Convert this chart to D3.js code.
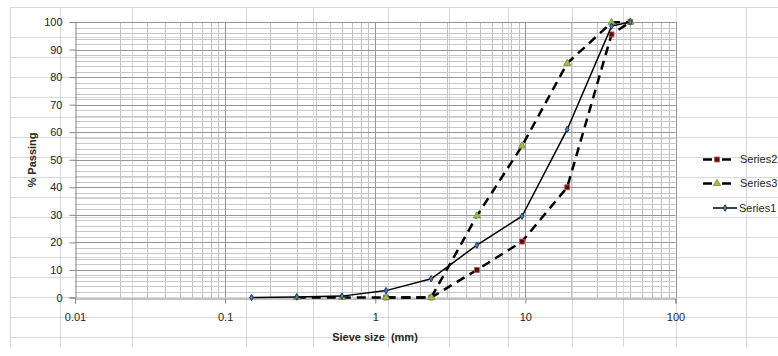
<!DOCTYPE html>
<html>
<head>
<meta charset="utf-8">
<script src="https://cdn.jsdelivr.net/npm/d3@7"></script>
<style>
	body { margin: 0; background: #fff; }
	svg { display: block; font-family: 'Liberation Sans', Arial, sans-serif; }
</style>
</head>
<body>
<svg></svg>
<script>
const width = 778;
const height = 356;

// sieve sizes (mm) and % passing
const sieve1 = [0.15, 0.3, 0.6, 1.18, 2.36, 4.75, 9.5, 19, 37.5, 50];
const series1 = [0, 0.2, 0.5, 2.5, 6.8, 19, 29.5, 61, 98.5, 100];
const sieve2 = [1.18, 2.36, 4.75, 9.5, 19, 37.5, 50];
const series2 = [0, 0, 10, 20.3, 40, 95.5, 100];
const sieve3 = [0.3, 0.6, 1.18, 2.36, 4.75, 9.5, 19, 37.5, 50];
const series3 = [0, 0, 0, 0, 29.6, 55, 85, 99.8, 100];

const xTicks = [0.01, 0.1, 1, 10, 100];
const yTicks = [0, 10, 20, 30, 40, 50, 60, 70, 80, 90, 100];
const legendNames = ['Series2', 'Series3', 'Series1'];

// spreadsheet cells behind the chart
const cellCols = [10, 60, 132, 246, 313, 388, 449, 508, 572, 623, 676, 746];
const cellRows = [7, 37].concat(d3.range(57, 340, 20));

const svg = d3.select('svg').attr('width', width).attr('height', height);

const x = d3.scaleLog().domain([0.01, 100]).range([75, 675.5]);
const y = d3.scaleLinear().domain([0, 100]).range([297.5, 22]);

// cell lines
const cells = svg.append('g').attr('stroke', '#d9d9d9').attr('stroke-width', 1);
cells.selectAll('line.r')
	.data(cellRows)
	.enter()
	.append('line')
	.attr('class', 'r')
	.attr('x1', 10).attr('x2', width)
	.attr('y1', (d) => d + 0.5).attr('y2', (d) => d + 0.5);
cells.selectAll('line.c')
	.data(cellCols)
	.enter()
	.append('line')
	.attr('class', 'c')
	.attr('x1', (d) => d + 0.5).attr('x2', (d) => d + 0.5)
	.attr('y1', 7).attr('y2', 347);

// gridlines
const minorX = [];
[-2, -1, 0, 1].forEach((e) => {
	for (let k = 2; k <= 9; k++) minorX.push(k * Math.pow(10, e));
});
const minorY = d3.range(0, 101, 2).filter((d) => d % 10 !== 0);

const grid = svg.append('g');
grid.selectAll('line.mx')
	.data(minorX)
	.enter()
	.append('line')
	.attr('x1', (d) => Math.round(x(d)) + 0.5).attr('x2', (d) => Math.round(x(d)) + 0.5)
	.attr('y1', y(100)).attr('y2', y(0))
	.attr('stroke', '#c0c0c0');
grid.selectAll('line.my')
	.data(minorY)
	.enter()
	.append('line')
	.attr('x1', x(0.01)).attr('x2', x(100))
	.attr('y1', (d) => Math.round(y(d)) + 0.5).attr('y2', (d) => Math.round(y(d)) + 0.5)
	.attr('stroke', '#c8c8c8');
grid.selectAll('line.Mx')
	.data(xTicks.slice(1))
	.enter()
	.append('line')
	.attr('x1', (d) => Math.round(x(d)) + 0.5).attr('x2', (d) => Math.round(x(d)) + 0.5)
	.attr('y1', y(100)).attr('y2', y(0))
	.attr('stroke', '#969696');
grid.selectAll('line.My')
	.data(yTicks.slice(1))
	.enter()
	.append('line')
	.attr('x1', x(0.01)).attr('x2', x(100))
	.attr('y1', (d) => Math.round(y(d)) + 0.5).attr('y2', (d) => Math.round(y(d)) + 0.5)
	.attr('stroke', '#969696');

// axes
const xAxis = svg.append('g')
	.attr('transform', `translate(0,${Math.round(y(0)) + 0.5})`)
	.call(d3.axisBottom(x).tickValues(xTicks).tickFormat((d) => String(d)).tickSize(5).tickPadding(10));
const yAxis = svg.append('g')
	.attr('transform', `translate(${Math.round(x(0.01)) + 0.5},0)`)
	.call(d3.axisLeft(y).tickValues(yTicks).tickSize(6).tickPadding(7));
[xAxis, yAxis].forEach((a) => {
	a.select('.domain').attr('stroke', '#868686');
	a.selectAll('.tick line').attr('stroke', '#868686');
	a.selectAll('.tick text').attr('fill', '#262626').style('font-size', '11px');
});

// axis titles
svg.append('text')
	.attr('x', 375).attr('y', 341)
	.attr('text-anchor', 'middle')
	.style('font-size', '11px').style('font-weight', 'bold').attr('fill', '#262626')
	.attr('xml:space', 'preserve')
	.text('Sieve size  (mm)');
svg.append('text')
	.attr('transform', 'translate(36,160) rotate(-90)')
	.attr('text-anchor', 'middle')
	.style('font-size', '11px').style('font-weight', 'bold').attr('fill', '#262626')
	.text('% Passing');

// series
const line = d3.line().x((d) => x(d[0])).y((d) => y(d[1]));
const s1 = d3.zip(sieve1, series1);
const s2 = d3.zip(sieve2, series2);
const s3 = d3.zip(sieve3, series3);

const styles = {
	Series1: { dash: null, width: 1.5, symbol: d3.symbolDiamond, size: 12, fill: '#4f81bd', stroke: '#1f3864' },
	Series2: { dash: '9,6', width: 2.5, symbol: d3.symbolSquare, size: 24, fill: '#4a0f0f', stroke: '#c0504d' },
	Series3: { dash: '9,6', width: 2.5, symbol: d3.symbolTriangle, size: 22, fill: '#9bbb59', stroke: '#7f9a3f' },
};

function drawSeries(data, name) {
	const st = styles[name];
	svg.append('path')
		.datum(data)
		.attr('d', line)
		.attr('fill', 'none')
		.attr('stroke', '#000')
		.attr('stroke-width', st.width)
		.attr('stroke-dasharray', st.dash);
	svg.append('g')
		.selectAll('path')
		.data(data)
		.enter()
		.append('path')
		.attr('d', d3.symbol().type(st.symbol).size(st.size))
		.attr('transform', (d) => `translate(${x(d[0])},${y(d[1])})`)
		.attr('fill', st.fill)
		.attr('stroke', st.stroke)
		.attr('stroke-width', 1);
}

drawSeries(s2, 'Series2');
drawSeries(s3, 'Series3');
drawSeries(s1, 'Series1');

// legend
const legendY = [159.5, 183.5, 208];
const legend = svg.append('g')
	.selectAll('g')
	.data(legendNames)
	.enter()
	.append('g')
	.attr('transform', (d, i) => `translate(0,${legendY[i]})`);

legend.each(function (name) {
	const g = d3.select(this);
	const st = styles[name];
	const x0 = st.dash ? 703 : 713;
	const x1 = st.dash ? 731 : 737;
	g.append('line')
		.attr('x1', x0).attr('x2', x1)
		.attr('stroke', '#000')
		.attr('stroke-width', st.width)
		.attr('stroke-dasharray', st.dash ? '9,10' : null);
	g.append('path')
		.attr('d', d3.symbol().type(st.symbol).size(st.size))
		.attr('transform', `translate(${(x0 + x1) / 2},0)`)
		.attr('fill', st.fill)
		.attr('stroke', st.stroke);
	g.append('text')
		.attr('x', st.dash ? 740 : 739)
		.attr('dy', '0.35em')
		.style('font-size', '11px')
		.attr('fill', '#262626')
		.text(name);
});
</script>
</body>
</html>
